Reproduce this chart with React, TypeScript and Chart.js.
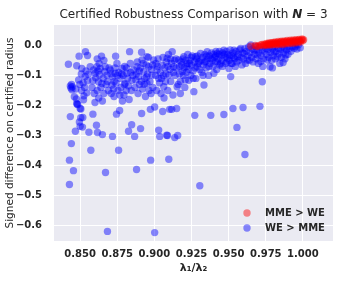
import React, { useEffect, useRef } from "react";
import { Chart, registerables } from "chart.js";
Chart.register(...registerables);

const titlePrefix = "Certified Robustness Comparison with ";
const titleVar = "N";
const titleSuffix = " = 3";
const xAxisLabel = "λ₁/λ₂";
const yAxisLabel = "Signed difference on certified radius";
const seriesNames = ["MME > WE", "WE > MME"];

const xTicks = [0.85, 0.875, 0.9, 0.925, 0.95, 0.975, 1.0];
const xTickLabels = ["0.850", "0.875", "0.900", "0.925", "0.950", "0.975", "1.000"];
const yTicks = [0, -0.1, -0.2, -0.3, -0.4, -0.5, -0.6];
const yTickLabels = ["0.0", "−0.1", "−0.2", "−0.3", "−0.4", "−0.5", "−0.6"];

const mmeGtWe: [number, number][] = [
  [0.9650,-0.003],[0.9680,0.000],[0.9690,-0.004],[0.9700,-0.002],[0.9715,0.001],[0.9725,0.003],[0.9735,-0.001],
  [0.9740,0.004],[0.9750,0.002],[0.9755,0.006],[0.9760,0.000],[0.9765,0.005],[0.9770,0.008],[0.9775,0.003],
  [0.9780,0.007],[0.9785,0.001],[0.9790,0.009],[0.9795,0.005],[0.9800,0.010],[0.9805,0.003],[0.9810,0.008],
  [0.9815,0.011],[0.9820,0.006],[0.9825,0.002],[0.9830,0.010],[0.9835,0.013],[0.9840,0.007],[0.9845,0.004],
  [0.9850,0.011],[0.9855,0.014],[0.9860,0.008],[0.9865,0.003],[0.9870,0.012],[0.9875,0.015],[0.9880,0.009],
  [0.9885,0.005],[0.9890,0.013],[0.9895,0.016],[0.9900,0.010],[0.9905,0.006],[0.9910,0.014],[0.9915,0.017],
  [0.9920,0.011],[0.9925,0.007],[0.9930,0.015],[0.9935,0.018],[0.9940,0.012],[0.9945,0.008],[0.9950,0.016],
  [0.9955,0.019],[0.9960,0.013],[0.9965,0.009],[0.9970,0.017],[0.9975,0.020],[0.9980,0.014],[0.9985,0.011],
  [0.9990,0.018],[0.9995,0.021],[1.0000,0.016],[1.0005,0.019],
];

const weGtMme: [number, number][] = [
  [0.8421,-0.063],[0.8434,-0.135],[0.8438,-0.142],[0.8442,-0.130],[0.8445,-0.148],[0.8447,-0.138],
  [0.8461,-0.171],[0.8434,-0.237],
  [0.8441,-0.327],[0.8428,-0.382],[0.8455,-0.417],[0.8428,-0.463],[0.8468,-0.286],[0.8477,-0.068],[0.8477,-0.193],
  [0.8484,-0.197],[0.8480,-0.196],[0.8493,-0.036],[0.8470,-0.145],[0.8475,-0.178],
  [0.8500,-0.210],[0.8505,-0.212],[0.8504,-0.241],[0.8495,-0.255],[0.8500,-0.269],[0.8516,-0.272],[0.8518,-0.240],
  [0.8511,-0.077],[0.8534,-0.104],[0.8536,-0.021],[0.8550,-0.034],[0.8556,-0.096],[0.8490,-0.115],[0.8498,-0.130],
  [0.8510,-0.150],[0.8520,-0.125],[0.8525,-0.168],[0.8530,-0.140],[0.8540,-0.085],[0.8545,-0.158],[0.8550,-0.118],
  [0.8523,-0.181],[0.8508,-0.095],[0.8572,-0.349],[0.8559,-0.289],[0.8568,-0.071],
  [0.8586,-0.229],[0.8610,-0.266],[0.8617,-0.290],[0.8650,-0.297],[0.8590,-0.082],[0.8601,-0.093],[0.8613,-0.071],
  [0.8624,-0.121],[0.8646,-0.127],[0.8635,-0.077],[0.8644,-0.036],[0.8669,-0.071],[0.8680,-0.099],[0.8580,-0.140],
  [0.8595,-0.160],[0.8605,-0.108],[0.8615,-0.150],[0.8625,-0.175],[0.8630,-0.098],[0.8640,-0.140],[0.8655,-0.110],
  [0.8660,-0.160],[0.8665,-0.088],[0.8675,-0.130],[0.8690,-0.150],[0.8585,-0.118],[0.8620,-0.085],[0.8671,-0.423],
  [0.8684,-0.619],[0.8600,-0.190],[0.8650,-0.185],
  [0.8615,-0.045],[0.8628,-0.060],[0.8660,-0.050],[0.8685,-0.120],[0.8695,-0.075],
  [0.8703,-0.082],[0.8714,-0.132],[0.8718,-0.303],[0.8736,-0.093],[0.8739,-0.036],[0.8748,-0.060],[0.8745,-0.229],
  [0.8759,-0.349],[0.8766,-0.217],[0.8770,-0.110],[0.8782,-0.077],[0.8804,-0.127],[0.8815,-0.093],[0.8826,-0.286],
  [0.8833,-0.021],[0.8838,-0.060],[0.8847,-0.264],[0.8849,-0.116],[0.8710,-0.160],[0.8720,-0.105],[0.8728,-0.170],
  [0.8730,-0.120],[0.8755,-0.150],[0.8760,-0.090],[0.8775,-0.140],[0.8790,-0.100],[0.8795,-0.165],[0.8800,-0.070],
  [0.8810,-0.150],[0.8820,-0.110],[0.8830,-0.180],[0.8840,-0.090],[0.8785,-0.185],[0.8725,-0.145],
  [0.8708,-0.095],[0.8735,-0.075],[0.8742,-0.125],[0.8752,-0.100],[0.8768,-0.165],[0.8780,-0.095],[0.8798,-0.130],
  [0.8812,-0.075],[0.8825,-0.135],[0.8845,-0.150],
  [0.8860,-0.082],[0.8867,-0.303],[0.8880,-0.413],[0.8883,-0.071],[0.8894,-0.104],[0.8907,-0.277],[0.8914,-0.227],
  [0.8914,-0.023],[0.8917,-0.049],[0.8928,-0.088],[0.8950,-0.127],[0.8950,-0.038],[0.8962,-0.071],[0.8973,-0.213],
  [0.8975,-0.382],[0.8984,-0.099],[0.8995,-0.049],[0.9002,-0.623],[0.9002,-0.205],[0.8870,-0.140],[0.8875,-0.115],
  [0.8890,-0.160],[0.8900,-0.130],[0.8905,-0.075],[0.8920,-0.145],[0.8935,-0.110],[0.8940,-0.170],[0.8945,-0.065],
  [0.8955,-0.095],[0.8965,-0.150],[0.8970,-0.120],[0.8980,-0.080],[0.8990,-0.140],[0.8885,-0.055],[0.8925,-0.060],
  [0.8855,-0.100],[0.8878,-0.095],[0.8898,-0.085],[0.8912,-0.120],[0.8932,-0.130],[0.8948,-0.105],[0.8960,-0.040],
  [0.8978,-0.160],[0.8988,-0.065],
  [0.9018,-0.082],[0.9029,-0.110],[0.9029,-0.282],[0.9036,-0.303],[0.9052,-0.066],[0.9056,-0.220],[0.9063,-0.138],
  [0.9083,-0.299],[0.9086,-0.043],[0.9088,-0.300],[0.9097,-0.099],[0.9097,-0.379],[0.9103,-0.213],[0.9010,-0.060],
  [0.9015,-0.150],[0.9025,-0.045],[0.9035,-0.125],[0.9040,-0.090],[0.9045,-0.160],[0.9060,-0.100],[0.9070,-0.075],
  [0.9075,-0.120],[0.9080,-0.055],[0.9090,-0.150],[0.9095,-0.030],[0.9105,-0.080],[0.9110,-0.120],[0.9115,-0.060],
  [0.9120,-0.021],[0.9117,-0.213],[0.9131,-0.071],[0.9137,-0.307],[0.9150,-0.210],[0.9153,-0.138],[0.9157,-0.300],
  [0.9140,-0.100],[0.9145,-0.045],[0.9125,-0.165],[0.9065,-0.175],
  [0.9008,-0.100],[0.9022,-0.070],[0.9048,-0.110],[0.9058,-0.040],[0.9078,-0.095],[0.9092,-0.070],[0.9108,-0.045],
  [0.9128,-0.090],[0.9135,-0.050],[0.9148,-0.075],
  [0.9164,-0.049],[0.9187,-0.088],[0.9198,-0.038],[0.9221,-0.060],[0.9232,-0.116],[0.9266,-0.154],[0.9272,-0.233],
  [0.9277,-0.038],[0.9288,-0.071],[0.9306,-0.467],[0.9170,-0.070],[0.9175,-0.120],[0.9180,-0.055],[0.9195,-0.100],
  [0.9200,-0.075],[0.9205,-0.140],[0.9210,-0.050],[0.9215,-0.090],[0.9225,-0.030],[0.9230,-0.080],[0.9240,-0.050],
  [0.9245,-0.100],[0.9250,-0.065],[0.9255,-0.035],[0.9260,-0.085],[0.9270,-0.055],[0.9280,-0.110],[0.9285,-0.045],
  [0.9295,-0.060],[0.9175,-0.160],[0.9160,-0.130],
  [0.9168,-0.095],[0.9185,-0.065],[0.9192,-0.045],[0.9208,-0.115],[0.9218,-0.070],[0.9235,-0.060],[0.9248,-0.040],
  [0.9262,-0.110],[0.9275,-0.075],[0.9290,-0.035],[0.9300,-0.055],
  [0.9311,-0.027],[0.9334,-0.132],[0.9345,-0.054],[0.9356,-0.021],[0.9380,-0.233],[0.9390,-0.049],[0.9401,-0.093],
  [0.9423,-0.027],[0.9446,-0.060],[0.9305,-0.080],[0.9315,-0.050],[0.9320,-0.090],[0.9325,-0.040],[0.9330,-0.065],
  [0.9340,-0.030],[0.9350,-0.075],[0.9360,-0.045],[0.9365,-0.100],[0.9370,-0.035],[0.9375,-0.060],[0.9385,-0.025],
  [0.9395,-0.070],[0.9405,-0.040],[0.9410,-0.055],[0.9415,-0.020],[0.9420,-0.080],[0.9430,-0.045],[0.9435,-0.030],
  [0.9440,-0.065],[0.9450,-0.035],
  [0.9328,-0.100],[0.9338,-0.055],[0.9352,-0.035],[0.9368,-0.070],[0.9382,-0.045],[0.9398,-0.030],[0.9412,-0.035],
  [0.9425,-0.055],[0.9438,-0.020],
  [0.9468,-0.016],[0.9468,-0.230],[0.9491,-0.043],[0.9502,-0.077],[0.9514,-0.104],[0.9529,-0.210],[0.9536,-0.016],
  [0.9556,-0.273],[0.9559,-0.038],[0.9581,-0.010],[0.9597,-0.207],[0.9455,-0.050],[0.9460,-0.025],[0.9475,-0.040],
  [0.9480,-0.060],[0.9485,-0.020],[0.9495,-0.030],[0.9505,-0.050],[0.9510,-0.015],[0.9520,-0.035],[0.9525,-0.060],
  [0.9530,-0.025],[0.9540,-0.045],[0.9545,-0.070],[0.9550,-0.020],[0.9555,-0.055],[0.9565,-0.030],[0.9570,-0.050],
  [0.9575,-0.015],[0.9585,-0.040],[0.9590,-0.065],[0.9595,-0.025],
  [0.9458,-0.070],[0.9472,-0.030],[0.9488,-0.055],[0.9508,-0.035],[0.9518,-0.060],[0.9535,-0.040],
  [0.9604,-0.027],[0.9610,-0.363],[0.9626,-0.049],[0.9649,0.001],[0.9671,-0.016],[0.9694,-0.032],[0.9711,-0.203],
  [0.9716,-0.054],[0.9727,-0.121],[0.9600,-0.045],[0.9610,-0.010],[0.9615,-0.060],[0.9620,-0.020],[0.9630,-0.035],
  [0.9635,-0.005],[0.9640,-0.050],[0.9645,-0.025],[0.9655,-0.040],[0.9660,-0.012],[0.9665,-0.055],[0.9675,-0.030],
  [0.9680,-0.003],[0.9685,-0.045],[0.9690,-0.015],[0.9700,-0.060],[0.9705,-0.025],[0.9710,-0.005],[0.9720,-0.035],
  [0.9725,-0.015],[0.9730,-0.070],[0.9735,-0.045],[0.9740,-0.020],
  [0.9750,-0.010],[0.9761,-0.049],[0.9779,-0.071],[0.9806,-0.021],[0.9829,-0.038],[0.9867,-0.057],[0.9885,-0.032],
  [0.9941,-0.010],[0.9982,-0.008],[0.9755,-0.030],[0.9765,-0.015],[0.9770,-0.040],[0.9775,-0.005],[0.9785,-0.025],
  [0.9790,-0.050],[0.9795,-0.012],[0.9800,-0.035],[0.9810,-0.005],[0.9815,-0.045],[0.9820,-0.020],[0.9835,-0.010],
  [0.9840,-0.028],[0.9845,-0.060],[0.9850,-0.015],[0.9855,-0.040],[0.9860,-0.005],[0.9870,-0.025],[0.9875,-0.010],
  [0.9880,-0.045],[0.9890,-0.015],[0.9895,-0.005],[0.9900,-0.030],[0.9910,-0.010],[0.9920,-0.020],[0.9930,-0.005],
  [0.9950,-0.003],[0.9960,-0.012],[0.9970,0.002],[0.9795,-0.075],
];

const FONT = "'DejaVu Sans', sans-serif";
const TEXT = "#262626";
const RED = "rgba(255,0,0,0.45)";
const BLUE = "rgba(0,0,255,0.45)";
const RADIUS = 3.7;

export default function App() {
  const ref = useRef<HTMLCanvasElement>(null);
  useEffect(() => {
    const bgPlugin = {
      id: "bg",
      beforeDraw(chart: any) {
        const { ctx, chartArea: a } = chart;
        ctx.save();
        ctx.fillStyle = "#ffffff";
        ctx.fillRect(0, 0, chart.width, chart.height);
        ctx.fillStyle = "#EAEAF2";
        ctx.fillRect(a.left, a.top, a.right - a.left, a.bottom - a.top);
        ctx.restore();
      },
    };
    const overlayPlugin = {
      id: "overlay",
      afterDraw(chart: any) {
        const { ctx, chartArea: a } = chart;
        ctx.save();
        const normal = `12px ${FONT}`;
        const bi = `italic bold 12px ${FONT}`;
        ctx.font = normal;
        const w1 = ctx.measureText(titlePrefix).width;
        const w3 = ctx.measureText(titleSuffix).width;
        ctx.font = bi;
        const w2 = ctx.measureText(titleVar).width;
        const total = w1 + w2 + w3;
        let x = (a.left + a.right) / 2 - total / 2;
        const ty = a.top - 10;
        ctx.fillStyle = TEXT;
        ctx.textBaseline = "middle";
        ctx.textAlign = "left";
        ctx.font = normal;
        ctx.fillText(titlePrefix, x, ty);
        x += w1;
        ctx.font = bi;
        ctx.fillText(titleVar, x, ty);
        x += w2;
        ctx.font = normal;
        ctx.fillText(titleSuffix, x, ty);
        const colors = [RED, BLUE];
        const lx = a.right - 86;
        const rows = [a.bottom - 28, a.bottom - 13];
        ctx.font = `bold 10px ${FONT}`;
        seriesNames.forEach((name, i) => {
          ctx.beginPath();
          ctx.fillStyle = colors[i];
          ctx.arc(lx, rows[i], RADIUS, 0, Math.PI * 2);
          ctx.fill();
          ctx.fillStyle = TEXT;
          ctx.fillText(name, lx + 18, rows[i] + 0.5);
        });
        ctx.restore();
      },
    };
    const chart = new Chart(ref.current!, {
      type: "scatter",
      data: {
        datasets: [
          {
            label: seriesNames[0],
            data: mmeGtWe.map(([x, y]) => ({ x, y })),
            backgroundColor: RED,
            borderWidth: 0,
            pointRadius: RADIUS,
          },
          {
            label: seriesNames[1],
            data: weGtMme.map(([x, y]) => ({ x, y })),
            backgroundColor: BLUE,
            borderWidth: 0,
            pointRadius: RADIUS,
          },
        ],
      },
      options: {
        responsive: false,
        animation: false,
        events: [],
        layout: { padding: { left: 0, top: 25, right: 7, bottom: 0 } },
        plugins: { legend: { display: false }, title: { display: false }, tooltip: { enabled: false } },
        scales: {
          x: {
            type: "linear",
            min: 0.8324,
            max: 1.0203,
            afterBuildTicks: (s: any) => {
              s.ticks = xTicks.map((v) => ({ value: v }));
            },
            afterFit: (s: any) => {
              s.height = 43;
            },
            grid: { color: "#ffffff", lineWidth: 1, drawTicks: false },
            border: { display: false },
            ticks: {
              padding: 7,
              color: TEXT,
              font: { family: FONT, size: 10, weight: "bold" },
              maxRotation: 0,
              callback: (v: any) => {
                const i = xTicks.findIndex((t) => Math.abs(t - v) < 1e-9);
                return i >= 0 ? xTickLabels[i] : "";
              },
            },
            title: {
              display: true,
              text: xAxisLabel,
              color: TEXT,
              font: { family: FONT, size: 11, weight: "bold" },
              padding: { top: 0, bottom: 9 },
            },
          },
          y: {
            type: "linear",
            min: -0.651,
            max: 0.0677,
            afterBuildTicks: (s: any) => {
              s.ticks = yTicks.map((v) => ({ value: v }));
            },
            afterFit: (s: any) => {
              s.width = 54;
            },
            grid: { color: "#ffffff", lineWidth: 1, drawTicks: false },
            border: { display: false },
            ticks: {
              padding: 12,
              color: TEXT,
              font: { family: FONT, size: 10, weight: "bold" },
              callback: (v: any) => {
                const i = yTicks.findIndex((t) => Math.abs(t - v) < 1e-9);
                return i >= 0 ? yTickLabels[i] : "";
              },
            },
            title: {
              display: true,
              text: yAxisLabel,
              color: TEXT,
              font: { family: FONT, size: 10.5 },
              padding: { top: 4, bottom: 0 },
            },
          },
        },
      },
      plugins: [bgPlugin, overlayPlugin],
    } as any);
    return () => chart.destroy();
  }, []);
  return (
    <div style={{ position: "absolute", left: 0, top: 0, width: 340, height: 284 }}>
      <canvas ref={ref} width={340} height={284} />
    </div>
  );
}
